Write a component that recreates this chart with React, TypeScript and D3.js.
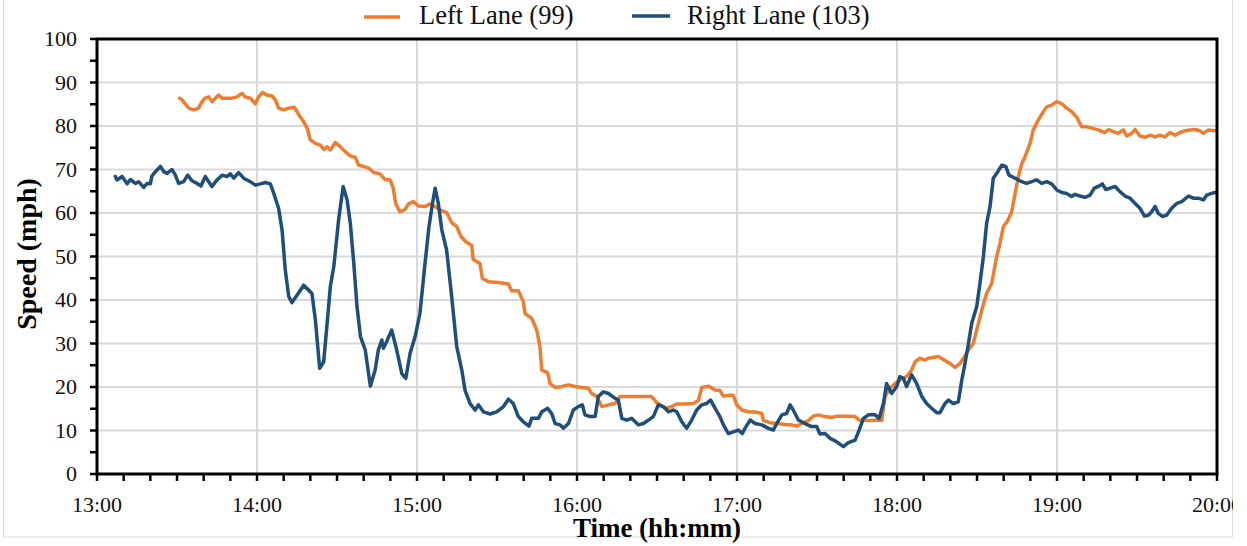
import React from "react";
import * as d3 from "d3";

// Time in minutes after 13:00, speed in mph
const leftTimes = [31.0, 31.9, 33.1, 34.4, 36.3, 38.1, 39.4, 40.6, 41.9, 43.1, 44.4, 45.6, 46.9, 48.8, 50.6, 52.5, 54.4, 55.6, 57.5, 59.4, 60.6, 62.1, 63.8, 65.6, 66.9, 68.1, 70.0, 71.9, 74.0, 75.0, 76.3, 77.5, 78.8, 80.0, 81.9, 83.8, 85.0, 86.3, 87.5, 89.4, 91.3, 93.1, 95.0, 96.9, 98.1, 100.0, 101.9, 103.8,
  106.1, 108.0, 109.9, 111.1, 112.0, 113.6, 115.5, 116.8, 118.6, 120.5, 123.0, 124.9, 126.8, 128.6, 131.1, 133.0, 134.9, 136.5, 138.3, 140.5, 141.1, 143.6, 144.5, 146.8, 150.5, 154.3, 155.5, 158.0, 159.9, 160.5, 163.0, 164.9, 166.1, 166.8, 169.0, 169.9, 171.8, 174.3, 176.8, 179.3, 181.8, 184.3, 185.5, 187.4, 189.3, 191.8, 194.3, 196.1, 199.3, 203.0, 208.0, 209.9,
  210.5, 213.0, 215.5, 217.4, 220.5, 223.6, 225.5, 226.8, 229.3, 231.8, 233.6, 234.9, 236.8, 238.6, 239.9, 241.8, 244.3, 247.4, 249.3, 249.9, 252.4, 254.9, 256.8, 258.6, 260.5, 262.4, 264.3, 266.8, 268.6, 270.5, 273.0, 275.5, 277.4, 280.5, 284.3, 285.8, 289.3, 293.0, 294.3, 295.5, 297.4, 299.3, 301.1, 303.6, 305.5, 306.8, 308.6, 310.5, 311.8, 313.6, 315.5,
  316.1, 318.0, 319.9, 321.8, 323.6, 324.9, 326.8, 328.6, 329.9, 331.8, 333.6, 335.5, 337.4, 338.6, 339.9, 341.5, 343.0, 344.3, 345.5, 346.8, 348.0, 349.9, 351.1, 353.0, 354.5, 356.1, 358.0, 359.9, 361.8, 363.6, 365.5, 367.4, 369.3, 371.1, 373.0, 375.5, 378.0, 379.3, 381.1, 383.0, 384.9, 386.1, 388.0, 389.3, 391.1, 393.0, 394.9, 396.8, 398.6, 400.5, 402.4, 404.3, 406.1, 408.0, 409.9, 411.8, 413.6, 414.9, 416.8, 419.3];
const leftSpeeds = [86.4, 86.0, 85.1, 84.1, 83.7, 84.1, 85.6, 86.4, 86.7, 85.6, 86.4, 87.1, 86.4, 86.4, 86.4, 86.7, 87.5, 86.7, 86.4, 85.1, 86.7, 87.7, 87.1, 86.9, 86.0, 84.1, 83.7, 84.1, 84.3, 83.3, 82.0, 81.0, 79.5, 76.8, 76.0, 75.6, 74.6, 75.2, 74.5, 76.2, 75.2, 74.1, 73.1, 72.8, 71.0, 70.7, 70.3, 69.3,
  69.0, 67.7, 67.6, 65.7, 62.2, 60.3, 60.8, 62.1, 62.6, 61.6, 61.5, 62.1, 61.5, 60.7, 60.1, 57.8, 56.9, 54.6, 53.4, 52.6, 49.3, 48.4, 45.0, 44.2, 44.0, 43.7, 42.1, 42.1, 39.6, 36.9, 35.8, 33.1, 29.3, 23.9, 23.3, 20.8, 19.9, 20.1, 20.5, 20.1, 19.9, 19.7, 18.5, 17.8, 15.5, 15.9, 16.2, 17.8, 17.8, 17.8, 17.8, 16.4,
  16.2, 15.1, 15.5, 16.1, 16.1, 16.2, 16.9, 19.9, 20.2, 19.3, 19.2, 17.9, 18.1, 18.1, 15.9, 14.7, 14.3, 14.2, 13.9, 12.3, 11.8, 11.6, 11.5, 11.3, 11.3, 11.0, 11.6, 12.3, 13.3, 13.6, 13.2, 13.0, 13.3, 13.3, 13.2, 12.4, 12.3, 12.4, 12.3, 17.8, 19.7, 20.8, 21.6, 22.4, 23.9, 25.8, 26.6, 26.2, 26.6, 26.8, 27.0,
  26.8, 26.1, 25.4, 24.5, 25.4, 26.6, 28.5, 30.0, 33.1, 37.7, 41.5, 43.8, 50.0, 53.0, 56.9, 58.2, 60.3, 64.5, 68.4, 71.4, 72.9, 76.0, 79.1, 81.4, 82.9, 84.4, 84.8, 85.6, 85.1, 84.1, 83.3, 82.0, 79.8, 79.8, 79.5, 79.1, 78.5, 79.2, 78.7, 78.3, 79.1, 77.7, 78.3, 79.2, 77.7, 77.4, 77.9, 77.5, 77.9, 77.5, 78.5, 77.9, 78.5, 78.9, 79.1, 79.2, 78.9, 78.3, 79.1, 78.9];

const rightTimes = [6.9, 7.5, 9.4, 11.3, 12.5, 14.4, 15.6, 17.5, 18.8, 20.0, 20.6, 21.9, 23.8, 25.0, 26.3, 28.1, 29.4, 30.6, 32.5, 34.0, 35.6, 37.5, 39.0, 40.6, 41.9, 43.1, 45.0, 46.9, 48.8, 50.0, 51.3, 53.1, 55.0, 57.5, 59.4, 61.3, 63.1, 65.0, 66.3, 68.1, 69.4, 70.6, 71.9, 73.1, 75.0, 77.5, 79.0, 80.6, 81.9, 83.5, 85.0, 86.3, 87.5, 88.8, 90.6, 92.3, 93.8, 95.0, 96.3, 97.5, 98.8, 100.6, 102.5,
  104.3, 105.5, 106.8, 107.4, 108.6, 110.5, 112.4, 114.3, 115.8, 117.4, 119.3, 121.1, 123.0, 124.5, 125.8, 126.8, 128.0, 129.3, 131.1, 133.0, 134.9, 136.8, 138.0, 139.9, 141.8, 143.0, 144.9, 147.4, 149.9, 152.4, 154.3, 156.1, 158.0, 159.9, 162.0, 163.0, 165.5, 166.8, 169.0, 170.5, 171.8, 173.6, 174.9, 176.8, 178.6, 180.5, 182.0, 183.0, 184.9, 186.8, 188.0, 189.9, 191.8, 194.3, 195.5, 196.8, 198.6, 200.5, 203.0, 204.9, 206.8, 208.6, 210.5,
  212.4, 214.3, 216.1, 217.4, 219.3, 221.1, 223.0, 224.9, 226.8, 228.6, 230.1, 231.8, 233.6, 234.9, 236.8, 238.6, 240.5, 242.0, 243.0, 244.9, 246.8, 249.3, 251.8, 253.6, 254.9, 256.8, 258.6, 259.9, 261.1, 263.0, 265.5, 268.0, 269.9, 271.1, 273.0, 274.9, 277.4, 279.9, 281.8, 284.3, 285.8, 287.4, 289.3, 291.8, 293.3, 294.9, 296.1, 298.0, 299.9, 301.1, 302.4, 303.6, 305.5, 307.4, 309.3, 311.1, 313.0, 314.9,
  316.1, 318.0, 319.3, 321.1, 323.0, 324.3, 325.5, 326.8, 328.0, 329.9, 331.1, 332.4, 333.6, 334.9, 336.1, 337.8, 339.3, 340.8, 342.0, 344.3, 346.8, 348.6, 350.5, 352.4, 354.3, 356.1, 358.0, 359.9, 361.8, 363.6, 365.5, 366.8, 368.6, 370.5, 372.4, 374.0, 375.5, 377.0, 378.3, 379.9, 381.8, 383.6, 385.5, 387.4, 389.3, 391.1, 392.8, 394.3, 395.5, 396.8, 398.0, 399.5, 401.1, 403.0, 404.9, 406.8, 409.3, 411.1, 413.0, 414.9, 416.1, 418.0, 419.3];
const rightSpeeds = [68.4, 67.6, 68.4, 66.7, 67.7, 66.8, 67.2, 65.9, 66.8, 66.7, 68.5, 69.5, 70.7, 69.5, 69.1, 70.0, 68.7, 66.8, 67.2, 68.7, 67.4, 66.8, 66.2, 68.4, 67.2, 66.1, 67.6, 68.7, 68.4, 69.0, 68.0, 69.3, 68.0, 67.2, 66.4, 66.7, 67.0, 66.7, 64.5, 61.1, 56.1, 46.9, 40.8, 39.4, 41.1, 43.4, 42.5, 41.5, 35.4, 24.3, 25.8, 34.6, 43.1, 47.7, 58.4, 66.1, 63.0, 57.6, 48.4, 38.5, 31.6, 28.5, 20.2,
  23.9, 28.5, 30.8, 28.9, 30.4, 33.1, 28.5, 23.1, 22.0, 27.7, 31.6, 36.9, 48.4, 56.9, 62.2, 65.7, 62.2, 56.1, 51.5, 40.8, 29.3, 23.9, 19.3, 16.2, 14.7, 15.9, 14.3, 13.8, 14.3, 15.5, 17.2, 16.2, 13.2, 12.0, 11.0, 12.8, 12.8, 14.3, 15.1, 13.9, 11.6, 11.3, 10.5, 11.6, 14.7, 15.5, 15.9, 13.6, 13.2, 13.2, 17.8, 18.9, 18.5, 17.4, 17.0, 12.8, 12.4, 12.8, 11.3, 11.6, 12.4, 13.2, 15.9,
  15.5, 14.3, 14.7, 14.3, 12.0, 10.5, 12.4, 14.7, 15.9, 16.2, 17.0, 15.1, 13.2, 11.3, 9.3, 9.7, 10.1, 9.3, 10.5, 12.4, 11.6, 11.3, 10.5, 10.1, 11.6, 13.6, 13.9, 15.9, 14.7, 12.4, 11.6, 10.9, 10.9, 9.2, 9.3, 8.2, 7.4, 6.3, 7.2, 7.8, 10.1, 12.8, 13.6, 13.6, 12.8, 16.2, 20.8, 18.5, 20.1, 22.4, 22.0, 20.1, 22.8, 20.8, 17.8, 16.2, 15.1, 14.1,
  14.1, 16.2, 17.0, 16.2, 16.6, 21.6, 25.4, 30.0, 34.6, 38.5, 43.8, 50.0, 57.6, 61.5, 68.0, 69.5, 71.0, 70.7, 68.7, 68.0, 67.2, 66.8, 67.2, 67.6, 66.8, 67.2, 66.7, 65.3, 64.7, 64.5, 63.8, 64.3, 63.9, 63.6, 64.1, 65.7, 66.1, 66.7, 65.4, 65.7, 66.1, 64.9, 63.9, 63.4, 62.2, 61.1, 59.3, 59.5, 60.3, 61.5, 59.9, 59.2, 59.5, 61.1, 62.2, 62.6, 63.9, 63.4, 63.4, 63.0, 64.1, 64.5, 64.7];

const xTickLabels = ["13:00", "14:00", "15:00", "16:00", "17:00", "18:00", "19:00", "20:00"];
const yTickValues = [0, 10, 20, 30, 40, 50, 60, 70, 80, 90, 100];
const seriesNames = ["Left Lane (99)", "Right Lane (103)"];
const xTitle = "Time (hh:mm)";
const yTitle = "Speed (mph)";

const ORANGE = "#ED7D31";
const BLUE = "#1F4E79";
const FONT = "'Liberation Serif', 'Times New Roman', serif";

export default function App() {
  const W = 1247, H = 546;
  const left = 97, right = 1217, top = 39, bottom = 474;
  const x = d3.scaleLinear().domain([0, 420]).range([left, right]);
  const y = d3.scaleLinear().domain([0, 100]).range([bottom, top]);

  const line = d3.line<[number, number]>().x(d => x(d[0])).y(d => y(d[1]));
  const leftData: [number, number][] = leftTimes.map((t, i) => [t, leftSpeeds[i]]);
  const rightData: [number, number][] = rightTimes.map((t, i) => [t, rightSpeeds[i]]);

  const hourTicks = xTickLabels.map((_, i) => i * 60);
  const minorX = d3.range(0, 421, 10);
  const minorY = d3.range(0, 101, 5);

  return (
    <svg width={W} height={H} style={{ position: "absolute", left: 0, top: 0, background: "#fff" }}>
      <defs>
        <clipPath id="outer"><rect x={3} y={0} width={1230} height={546} /></clipPath>
      </defs>
      <rect x={0} y={0} width={W} height={H} fill="#fff" />
      <rect x={3.5} y={-2} width={1229} height={539} fill="none" stroke="#d9d9d9" strokeWidth={1} />
      {/* gridlines */}
      {yTickValues.filter(v => v > 0 && v < 100).map(v => (
        <line key={"gy" + v} x1={left} x2={right} y1={y(v)} y2={y(v)} stroke="#d9d9d9" strokeWidth={2} />
      ))}
      {hourTicks.filter(t => t > 0 && t < 420).map(t => (
        <line key={"gx" + t} x1={x(t)} x2={x(t)} y1={top} y2={bottom} stroke="#d9d9d9" strokeWidth={2} />
      ))}
      {/* series */}
      <path d={line(leftData) || ""} fill="none" stroke={ORANGE} strokeWidth={3.5} strokeLinejoin="round" strokeLinecap="round" />
      <path d={line(rightData) || ""} fill="none" stroke={BLUE} strokeWidth={3.5} strokeLinejoin="round" strokeLinecap="round" />
      {/* frame */}
      <rect x={left} y={top} width={right - left} height={bottom - top} fill="none" stroke="#000" strokeWidth={3} />
      {/* ticks */}
      {minorY.map(v => (
        <line key={"ty" + v} x1={left - 7} x2={left} y1={y(v)} y2={y(v)} stroke="#000" strokeWidth={2.5} />
      ))}
      {minorX.map(t => (
        <line key={"tx" + t} x1={x(t)} x2={x(t)} y1={bottom} y2={bottom + 7} stroke="#000" strokeWidth={2.5} />
      ))}
      {/* tick labels */}
      <g fontFamily={FONT} fontSize={22} fill="#111">
        {yTickValues.map(v => (
          <text key={"ly" + v} x={77} y={y(v) + 7.4} textAnchor="end">{v}</text>
        ))}
        <g clipPath="url(#outer)">
          {xTickLabels.map((lab, i) => (
            <text key={"lx" + lab} x={x(hourTicks[i])} y={512} textAnchor="middle">{lab}</text>
          ))}
        </g>
      </g>
      {/* axis titles */}
      <text x={657} y={537} textAnchor="middle" fontFamily={FONT} fontSize={27} fontWeight="bold" fill="#000">{xTitle}</text>
      <text transform={`translate(36,${254}) rotate(-90)`} textAnchor="middle" fontFamily={FONT} fontSize={28} fontWeight="bold" fill="#000">{yTitle}</text>
      {/* legend */}
      <g fontFamily={FONT} fontSize={26.5} fill="#111">
        <line x1={364} x2={400} y1={17} y2={17} stroke={ORANGE} strokeWidth={3.5} />
        <text x={419} y={24}>{seriesNames[0]}</text>
        <line x1={632} x2={670} y1={16} y2={16} stroke={BLUE} strokeWidth={3.5} />
        <text x={687} y={24}>{seriesNames[1]}</text>
      </g>
    </svg>
  );
}
